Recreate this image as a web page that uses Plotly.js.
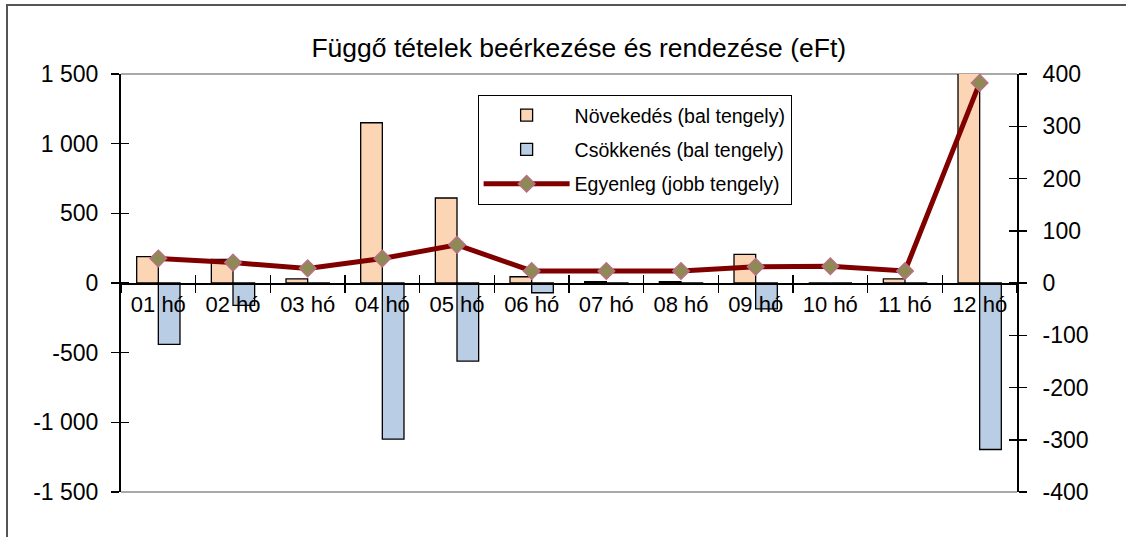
<!DOCTYPE html>
<html>
<head>
<meta charset="utf-8">
<script src="https://cdn.plot.ly/plotly-3.0.1.min.js"></script>
<style>
  html, body { margin: 0; padding: 0; background: #fff; }
  #wrap { position: relative; width: 1126px; height: 537px; overflow: hidden; }
  #chart { position: absolute; left: 0; top: 0; width: 1126px; height: 537px; }
  #frame { position: absolute; left: 6px; top: 4px; width: 1200px; height: 600px;
           border-left: 2px solid #555; border-top: 2px solid #555; pointer-events: none; }
</style>
</head>
<body>
<div id="wrap">
  <div id="chart"></div>
  <div id="frame"></div>
</div>
<script>
const months = ['01 hó','02 hó','03 hó','04 hó','05 hó','06 hó','07 hó','08 hó','09 hó','10 hó','11 hó','12 hó'];
const novekedes = [190, 170, 30, 1150, 610, 45, 10, 10, 205, 0, 30, 1650];
const csokkenes = [-440, -160, -10, -1120, -560, -70, -10, -10, -185, 0, -10, -1195];
const egyenleg = [47, 39, 28, 47, 73, 23, 23, 23, 31, 32, 23, 383];

const leftTickVals = [-1500, -1000, -500, 0, 500, 1000, 1500];
const leftTickText = ['-1 500', '-1 000', '-500', '0', '500', '1 000', '1 500'];
const rightTickVals = [-400, -300, -200, -100, 0, 100, 200, 300, 400];
const rightTickText = ['-400', '-300', '-200', '-100', '0', '100', '200', '300', '400'];

const FONT = 'Liberation Sans, Arial, sans-serif';
const nulls = months.map(() => null);

const traces = [
  {
    type: 'bar', name: 'Növekedés (bal tengely)', x: months, y: novekedes,
    xaxis: 'x', yaxis: 'y', legendgroup: 'a',
    marker: { color: '#FCD5B5', line: { color: '#000', width: 1.3 } },
    hoverinfo: 'x+y'
  },
  {
    type: 'bar', name: 'Csökkenés (bal tengely)', x: months, y: csokkenes,
    xaxis: 'x', yaxis: 'y', legendgroup: 'b',
    marker: { color: '#B9CDE5', line: { color: '#000', width: 1.3 } },
    hoverinfo: 'x+y'
  },
  {
    type: 'scatter', mode: 'lines+markers', name: 'Egyenleg (jobb tengely)',
    x: months, y: egyenleg, xaxis: 'x', yaxis: 'y2', legendgroup: 'c',
    line: { color: '#800000', width: 5 },
    marker: { symbol: 'diamond', size: 13, color: '#8F8A55', line: { color: '#C06A8A', width: 1.2 } },
    cliponaxis: false
  },
  // helper traces for "cross" tick marks (no visible data)
  { type: 'scatter', mode: 'none', x: months, y: nulls, xaxis: 'x2', yaxis: 'y', showlegend: false, hoverinfo: 'skip' },
  { type: 'scatter', mode: 'none', x: months, y: nulls, xaxis: 'x', yaxis: 'y3', showlegend: false, hoverinfo: 'skip' },
  { type: 'scatter', mode: 'none', x: months, y: nulls, xaxis: 'x', yaxis: 'y4', showlegend: false, hoverinfo: 'skip' }
];

const layout = {
  width: 1126, height: 537,
  margin: { l: 121, r: 109, t: 74, b: 45 },
  paper_bgcolor: '#fff', plot_bgcolor: '#fff',
  font: { family: FONT, size: 21, color: '#000' },
  showlegend: true,
  title: {
    text: 'Függő tételek beérkezése és rendezése (eFt)',
    font: { family: FONT, size: 26.5, color: '#000' },
    xref: 'container', x: 0.514, xanchor: 'center',
    yref: 'container', y: 0.912, yanchor: 'middle'
  },
  barmode: 'group', bargap: 0.42, bargroupgap: 0,
  xaxis: {
    type: 'category', range: [-0.5, 11.5], fixedrange: true,
    anchor: 'free', position: 0.5,
    showline: true, linecolor: '#000', linewidth: 1.5,
    ticks: 'outside', ticklen: 8, tickwidth: 1.5, tickcolor: '#000', tickson: 'boundaries',
    showgrid: false, zeroline: false,
    tickfont: { family: FONT, size: 22, color: '#000' }, ticklabelstandoff: 1
  },
  xaxis2: {
    type: 'category', range: [-0.5, 11.5], overlaying: 'x', fixedrange: true,
    anchor: 'free', position: 0.5,
    showline: false, ticks: 'inside', ticklen: 8, tickwidth: 1.5, tickcolor: '#000', tickson: 'boundaries',
    showticklabels: false, showgrid: false, zeroline: false
  },
  yaxis: {
    range: [-1500, 1500], fixedrange: true,
    tickvals: leftTickVals, ticktext: leftTickText,
    showline: true, linecolor: '#000', linewidth: 2,
    ticks: 'outside', ticklen: 8, tickwidth: 1.5, tickcolor: '#000',
    showgrid: false, zeroline: false,
    tickfont: { family: FONT, size: 23, color: '#000' }, ticklabelstandoff: 8
  },
  yaxis3: {
    range: [-1500, 1500], overlaying: 'y', side: 'left', anchor: 'x', fixedrange: true,
    tickvals: leftTickVals, showticklabels: false,
    showline: false, ticks: 'inside', ticklen: 8, tickwidth: 1.5, tickcolor: '#000',
    showgrid: false, zeroline: false
  },
  yaxis2: {
    range: [-400, 400], overlaying: 'y', side: 'right', anchor: 'x', fixedrange: true,
    tickvals: rightTickVals, ticktext: rightTickText,
    showline: true, linecolor: '#000', linewidth: 2,
    ticks: 'outside', ticklen: 8, tickwidth: 1.5, tickcolor: '#000',
    showgrid: false, zeroline: false,
    tickfont: { family: FONT, size: 23, color: '#000' }, ticklabelstandoff: 11
  },
  yaxis4: {
    range: [-400, 400], overlaying: 'y', side: 'right', anchor: 'x', fixedrange: true,
    tickvals: rightTickVals, showticklabels: false,
    showline: false, ticks: 'inside', ticklen: 8, tickwidth: 1.5, tickcolor: '#000',
    showgrid: false, zeroline: false
  },
  shapes: [
    { type: 'line', xref: 'paper', yref: 'paper', x0: 0, x1: 1, y0: 1, y1: 1, line: { color: '#8c8c8c', width: 1.5 }, layer: 'below' },
    { type: 'line', xref: 'paper', yref: 'paper', x0: 0, x1: 1, y0: 0, y1: 0, line: { color: '#8c8c8c', width: 1.5 }, layer: 'below' }
  ],
  legend: {
    x: 0.398, y: 0.95, xanchor: 'left', yanchor: 'top',
    bgcolor: '#fff', bordercolor: '#000', borderwidth: 1,
    font: { family: FONT, size: 19.5, color: '#000' },
    traceorder: 'grouped', tracegroupgap: 6, itemwidth: 86,
    entrywidth: 340, entrywidthmode: 'pixels'
  }
};

Plotly.newPlot('chart', traces, layout, { displayModeBar: false, staticPlot: true });
</script>
</body>
</html>
